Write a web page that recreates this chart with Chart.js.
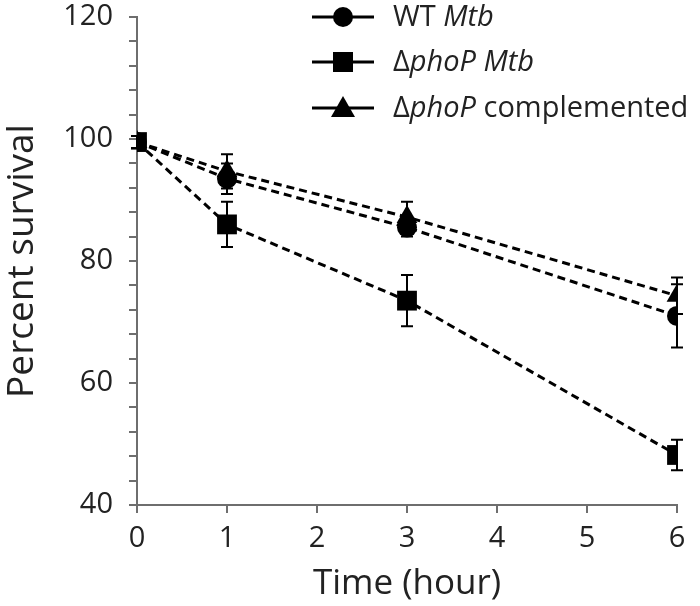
<!DOCTYPE html>
<html lang="en">
<head>
<meta charset="UTF-8">
<title>Percent survival</title>
<script src="https://cdn.jsdelivr.net/npm/chart.js"></script>
<style>
  body { margin: 0; background: #fff; }
  #wrap { width: 700px; height: 606px; }
</style>
</head>
<body>
<div id="wrap"><canvas id="survChart" width="700" height="606"></canvas></div>
<script>
  // data
  var hours = [0, 1, 3, 6]
  var wtVals = [99.5, 93.5, 85.5, 71]
  var wtErr = [1, 2.5, 1.5, 5.2]
  var phoVals = [99.5, 86, 73.5, 48.2]
  var phoErr = [1, 3.7, 4.2, 2.5]
  var compVals = [99.5, 94.7, 87.2, 74.3]
  var compErr = [1, 2.8, 2.5, 3]

  var seriesNames = [
    [['WT ', false], ['Mtb', true]],
    [['\u0394', false], ['phoP Mtb', true]],
    [['\u0394', false], ['phoP', true], [' complemented', false]]
  ]
  var errs = [wtErr, phoErr, compErr]

  var fontFam = '"Open Sans", "Liberation Sans", sans-serif'
  var axisGray = '#6e6e6e'

  function pts(vals) {
    return hours.map(function (h, i) { return { x: h, y: vals[i] } })
  }

  function makeSet(label, vals, style, r) {
    return {
      label: label,
      data: pts(vals),
      borderColor: '#000',
      backgroundColor: '#000',
      borderWidth: 3,
      borderDash: [8, 5],
      pointStyle: style,
      pointRadius: r,
      pointHoverRadius: r,
      pointBorderWidth: 0,
      tension: 0
    }
  }

  // error bars, drawn under the markers
  var errorBars = {
    id: 'errorBars',
    beforeDatasetsDraw: function (chart) {
      var ctx = chart.ctx
      var xs = chart.scales.x, ys = chart.scales.y
      ctx.save()
      ctx.strokeStyle = '#000'
      ctx.lineWidth = 2
      chart.data.datasets.forEach(function (ds, d) {
        ds.data.forEach(function (p, i) {
          var e = errs[d][i]
          var px = xs.getPixelForValue(p.x)
          var top = ys.getPixelForValue(p.y + e)
          var bot = ys.getPixelForValue(p.y - e)
          ctx.beginPath()
          ctx.moveTo(px, top); ctx.lineTo(px, bot)
          ctx.moveTo(px - 6, top); ctx.lineTo(px + 6, top)
          ctx.moveTo(px - 6, bot); ctx.lineTo(px + 6, bot)
          ctx.stroke()
        })
      })
      ctx.restore()
    }
  }

  function marker(ctx, style, x, y) {
    ctx.beginPath()
    if (style === 'circle') {
      ctx.arc(x, y, 10, 0, Math.PI * 2)
    } else if (style === 'rect') {
      ctx.rect(x - 10, y - 10, 20, 20)
    } else {
      ctx.moveTo(x, y - 12); ctx.lineTo(x + 12, y + 9); ctx.lineTo(x - 12, y + 9); ctx.closePath()
    }
    ctx.fill()
  }

  // legend with mixed italic text
  var italicLegend = {
    id: 'italicLegend',
    afterDraw: function (chart) {
      var ctx = chart.ctx
      var rows = [17, 62, 108]
      ctx.save()
      chart.data.datasets.forEach(function (ds, d) {
        var y = rows[d]
        ctx.strokeStyle = '#000'
        ctx.fillStyle = '#000'
        ctx.lineWidth = 3
        ctx.beginPath(); ctx.moveTo(312, y); ctx.lineTo(374, y); ctx.stroke()
        marker(ctx, ds.pointStyle, 343, y)
        var tx = 393
        ctx.textBaseline = 'middle'
        ctx.fillStyle = '#222'
        seriesNames[d].forEach(function (part) {
          ctx.font = (part[1] ? 'italic ' : '') + '29px ' + fontFam
          ctx.fillText(part[0], tx, y + 1)
          tx += ctx.measureText(part[0]).width
        })
      })
      ctx.restore()
    }
  }

  const config = {
    type: 'line',
    data: {
      datasets: [
        makeSet('WT Mtb', wtVals, 'circle', 10),
        makeSet('\u0394phoP Mtb', phoVals, 'rect', 14),
        makeSet('\u0394phoP complemented', compVals, 'triangle', 12)
      ]
    },
    options: {
      responsive: false,
      animation: false,
      layout: { padding: { left: 0, right: 23, top: 17, bottom: 0 } },
      plugins: { legend: { display: false }, tooltip: { enabled: false } },
      scales: {
        x: {
          type: 'linear',
          min: 0, max: 6,
          border: { color: axisGray, width: 2 },
          grid: { drawOnChartArea: false, tickLength: 8, color: axisGray, lineWidth: 2 },
          ticks: { stepSize: 1, color: '#222', font: { family: fontFam, size: 29 }, padding: 8 },
          title: { display: true, text: 'Time (hour)', color: '#222', font: { family: fontFam, size: 35 }, padding: { top: 8, bottom: 1 } },
          afterFit: function (s) { s.height = 101 }
        },
        y: {
          min: 40, max: 120,
          border: { color: axisGray, width: 2 },
          grid: { drawOnChartArea: false, tickLength: 8, color: axisGray, lineWidth: 2 },
          ticks: {
            stepSize: 4, autoSkip: false, color: '#222', font: { family: fontFam, size: 29 }, padding: 16,
            callback: function (v) { return v % 20 === 0 ? v : '' }
          },
          title: { display: true, text: 'Percent survival', color: '#222', font: { family: fontFam, size: 37 }, padding: { top: 0, bottom: 0 } },
          afterFit: function (s) {
            s.width = 137
            s.paddingTop = 0
            s.paddingBottom = 0
          }
        }
      }
    },
    plugins: [errorBars, italicLegend]
  };

  const survChart = new Chart(document.getElementById('survChart'), config);
</script>
</body>
</html>
